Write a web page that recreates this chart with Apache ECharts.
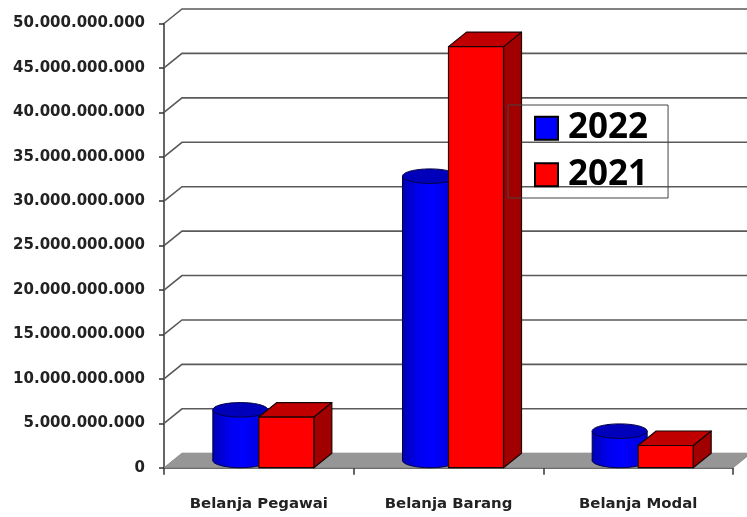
<!DOCTYPE html>
<html><head><meta charset="utf-8">
<style>html,body{margin:0;padding:0;background:#fff}#c{width:747px;height:517px}</style>
<script src="https://cdn.jsdelivr.net/npm/echarts@6/dist/echarts.min.js"></script>
</head><body><div id="c"></div>
<script>
const categories = ['Belanja Pegawai', 'Belanja Barang', 'Belanja Modal'];
const values2022 = [5700000000, 32000000000, 3300000000];
const values2021 = [5700000000, 47400000000, 2500000000];
const tickValues = [5000000000,10000000000,15000000000,20000000000,25000000000,30000000000,35000000000,40000000000,45000000000,50000000000];

const DX = 18, DY = 14.5, OUT = '#1a0505';
const BAR_FRAC = 0.29;
function fmt(v){ return String(v).replace(/\B(?=(\d{3})+$)/g,'.'); }

function renderWall(params, api){
  const cs = params.coordSys;
  const y = api.coord([0, api.value(0)])[1];
  return {type:'polyline', silent:true, shape:{points:[[cs.x,y],[cs.x+DX,y-DY],[cs.x+cs.width+DX,y-DY]]},
    style:{fill:null, stroke:'#5a5a5a', lineWidth:1.6}};
}
function renderFloor(params, api){
  const cs = params.coordSys;
  const y = api.coord([0, 0])[1];
  return {type:'polygon', silent:true, shape:{points:[[cs.x,y],[cs.x+DX,y-DY],[cs.x+cs.width+DX,y-DY],[cs.x+cs.width,y]]},
    style:{fill:'#969696', stroke:'#8a8a8a', lineWidth:1}};
}
function renderCylinder(params, api){
  const c = api.value(0), top = api.coord([c, api.value(1)]), base = api.coord([c, 0]);
  const w = api.size([1,0])[0]*BAR_FRAC;
  const cx = top[0] - w/2 + DX/2, yb = base[1]-DY/2, yt = top[1]-DY/2, rx = w/2, ry = DY/2;
  const grad = new echarts.graphic.LinearGradient(0,0,1,0,[
    {offset:0,color:'#0000b4'},{offset:0.3,color:'#0000f0'},{offset:0.55,color:'#0000ff'},{offset:1,color:'#0000d0'}]);
  return {type:'group', silent:true, children:[
    {type:'ellipse', shape:{cx:cx,cy:yb,rx:rx,ry:ry}, style:{fill:grad, stroke:'#000040', lineWidth:1}},
    {type:'rect', shape:{x:cx-rx,y:yt,width:w,height:yb-yt}, style:{fill:grad}},
    {type:'line', shape:{x1:cx-rx,y1:yt,x2:cx-rx,y2:yb}, style:{stroke:'#000040', lineWidth:1}},
    {type:'line', shape:{x1:cx+rx,y1:yt,x2:cx+rx,y2:yb}, style:{stroke:'#000040', lineWidth:1}},
    {type:'ellipse', shape:{cx:cx,cy:yt,rx:rx,ry:ry}, style:{fill:'#0000bb', stroke:'#000040', lineWidth:1}}
  ]};
}
function renderBox(params, api){
  const c = api.value(0), top = api.coord([c, api.value(1)]), base = api.coord([c, 0]);
  const w = api.size([1,0])[0]*BAR_FRAC;
  const x0 = top[0], x1 = x0+w, yt = top[1], yb = base[1];
  const ln = {stroke:OUT, lineWidth:1.2, lineJoin:'round'};
  return {type:'group', silent:true, children:[
    {type:'polygon', shape:{points:[[x1,yt],[x1+DX,yt-DY],[x1+DX,yb-DY],[x1,yb]]}, style:Object.assign({fill:'#a00000'},ln)},
    {type:'polygon', shape:{points:[[x0,yt],[x0+DX,yt-DY],[x1+DX,yt-DY],[x1,yt]]}, style:Object.assign({fill:'#c00000'},ln)},
    {type:'rect', shape:{x:x0,y:yt,width:w,height:yb-yt}, style:Object.assign({fill:'#ff0000'},ln)}
  ]};
}

const chart = echarts.init(document.getElementById('c'), null, {renderer:'canvas'});
chart.setOption({
  animation:false,
  backgroundColor:'#fff',
  grid:{left:164, right:14, top:23.5, bottom:49.3},
  legend:{
    data:['2022','2021'], orient:'vertical', left:508, top:105, z:20,
    padding:[0,20,0,26], itemGap:0, itemWidth:23, itemHeight:23,
    borderColor:'#444', borderWidth:1, backgroundColor:'transparent',
    icon:'rect', selectedMode:false,
    itemStyle:{borderColor:'#000', borderWidth:2},
    textStyle:{fontFamily:'Open Sans', fontWeight:'bold', fontSize:35, color:'#000', lineHeight:46.5, padding:[0,0,0,5]}
  },
  xAxis:{type:'category', data:categories, boundaryGap:true,
    axisLine:{lineStyle:{color:'#333', width:1.5}},
    axisTick:{show:true, alignWithLabel:false, length:7, lineStyle:{color:'#333', width:1.5}},
    axisLabel:{interval:0, margin:29, fontFamily:'DejaVu Sans', fontWeight:'bold', fontSize:14.9, color:'#222'},
    splitLine:{show:false}
  },
  yAxis:{type:'value', min:0, max:50000000000, interval:5000000000,
    axisLine:{show:true, lineStyle:{color:'#333', width:1.5}},
    axisTick:{show:true, length:5, lineStyle:{color:'#333', width:1.5}},
    axisLabel:{margin:19, fontFamily:'DejaVu Sans', fontWeight:'bold', fontSize:15, color:'#222', padding:[0,0,3,0], formatter:fmt},
    splitLine:{show:false}
  },
  series:[
    {type:'custom', name:'floor', coordinateSystem:'cartesian2d', renderItem:renderFloor, data:[[0]], z:1, encode:{y:0}},
    {type:'custom', name:'walls', coordinateSystem:'cartesian2d', renderItem:renderWall, data:tickValues.map(v=>[v]), z:1, encode:{y:0}},
    {type:'custom', name:'2022', coordinateSystem:'cartesian2d', renderItem:renderCylinder, itemStyle:{color:'#0000ff'},
      data:values2022.map((v,i)=>[i,v]), encode:{x:0,y:1}, z:3},
    {type:'custom', name:'2021', coordinateSystem:'cartesian2d', renderItem:renderBox, itemStyle:{color:'#ff0000'},
      data:values2021.map((v,i)=>[i,v]), encode:{x:0,y:1}, z:4}
  ]
});
</script></body></html>
